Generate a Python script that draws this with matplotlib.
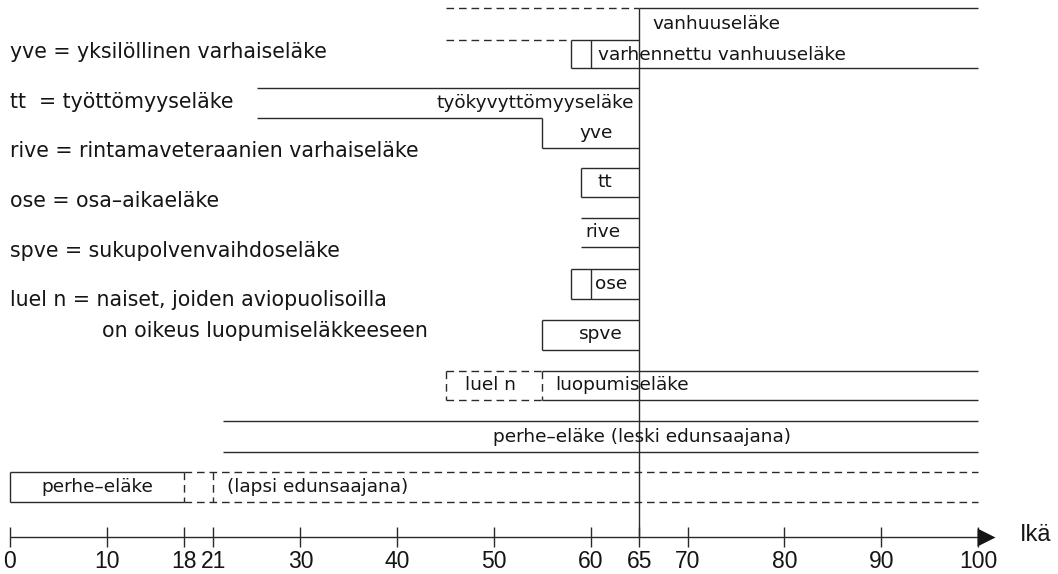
import matplotlib
matplotlib.use("Agg")
import matplotlib.pyplot as plt

# ages on the time line
age_ticks = [0, 10, 18, 21, 30, 40, 50, 60, 65, 70, 80, 90, 100]
retire_age = 65
max_age = 100

legend_lines = [
    "yve = yksilöllinen varhaiseläke",
    "tt  = työttömyyseläke",
    "rive = rintamaveteraanien varhaiseläke",
    "ose = osa\u2013aikaeläke",
    "spve = sukupolvenvaihdoseläke",
    "luel n = naiset, joiden aviopuolisoilla",
]
legend_cont = "on oikeus luopumiseläkkeeseen"

# ages for each pension row
vanhuus_ages = [45, 65, 100]        # dashed from, starts, ends
varhennettu_ages = [58, 60, 100]    # box start, divider, ends
tyokyvyt_ages = [25.5, 55, 65]      # start, yve from, ends
tt_ages = [59, 65]
rive_ages = [59, 65]
ose_ages = [58, 60, 65]
spve_ages = [55, 65]
luel_ages = [45, 55, 100]           # luel n from, luopumiseläke from, ends
leski_ages = [22, 100]
lapsi_ages = [0, 18, 21, 100]       # start, ends, dashed divider, dashed to

# ---- layout (pixels) ----
W, H = 1058, 574
PX0, PXY = 10, 9.68      # pixel of age 0, pixels per year
FONT = 13.3
LEG_FONT = 14.8
INK = "#2a2a2a"
TXT = "#151515"
DASH = (5.5, 3.5)
NUM_FONT = "Liberation Sans"

fig = plt.figure(figsize=(W / 100, H / 100), dpi=100)
ax = fig.add_axes([0, 0, 1, 1])
ax.set_xlim(-PX0 / PXY, (W - PX0) / PXY)
ax.set_ylim(H, 0)
ax.axis("off")


def hl(a, b, y, dashed=False):
    ln, = ax.plot([a, b], [y, y], color=INK, lw=1.0, solid_capstyle="butt")
    if dashed:
        ln.set_dashes(DASH)


def vl(x, y0, y1, dashed=False):
    ln, = ax.plot([x, x], [y0, y1], color=INK, lw=1.0, solid_capstyle="butt")
    if dashed:
        ln.set_dashes(DASH)


def txt(x, y, s, ha="left", size=FONT, **kw):
    ax.text(x, y, s, ha=ha, va="center", fontsize=size, color=TXT, **kw)


AXIS_Y = 537

# legend on the left
for i, s in enumerate(legend_lines):
    txt(0, 52 + i * 49.7, s, size=LEG_FONT)
txt(9.5, 331, legend_cont, size=LEG_FONT)

# retirement age line through the whole chart
vl(retire_age, 8, AXIS_Y)

# vanhuuseläke
d, s, e = vanhuus_ages
hl(d, s, 8, dashed=True)
hl(s, e, 8)
hl(d, varhennettu_ages[0], 40, dashed=True)
hl(varhennettu_ages[0], s, 40)
txt(s + 1.35, 24, "vanhuuseläke")

# varhennettu vanhuuseläke
s, m, e = varhennettu_ages
vl(s, 40, 68)
vl(m, 40, 68)
hl(s, e, 68)
txt(m + 0.7, 55, "varhennettu vanhuuseläke")

# työkyvyttömyyseläke + yve
s, y, e = tyokyvyt_ages
hl(s, e, 88)
hl(s, y, 118)
vl(y, 118, 148)
hl(y, e, 148)
txt(e - 0.5, 103, "työkyvyttömyyseläke", ha="right")
txt(y + 5.5, 133, "yve", ha="center")

# tt
s, e = tt_ages
hl(s, e, 168)
hl(s, e, 197)
vl(s, 168, 197)
txt(s + 2.5, 182, "tt", ha="center")

# rive (open on the left)
s, e = rive_ages
hl(s, e, 218)
hl(s, e, 247)
txt(s + 2.3, 232, "rive", ha="center")

# ose
s, m, e = ose_ages
hl(s, e, 269)
hl(s, e, 299)
vl(s, 269, 299)
vl(m, 269, 299)
txt(m + 2.1, 284, "ose", ha="center")

# spve
s, e = spve_ages
hl(s, e, 320)
hl(s, e, 350)
vl(s, 320, 350)
txt(s + 6, 334, "spve", ha="center")

# luel n / luopumiseläke
s, m, e = luel_ages
hl(s, m, 371, dashed=True)
hl(s, m, 400, dashed=True)
vl(s, 371, 400, dashed=True)
vl(m, 371, 400, dashed=True)
hl(m, e, 371)
hl(m, e, 400)
txt((s + m) / 2 - 0.4, 385, "luel n", ha="center")
txt(m + 1.3, 385, "luopumiseläke")

# perhe-eläke (leski)
s, e = leski_ages
hl(s, e, 421)
hl(s, e, 452)
txt(65.3, 437, "perhe\u2013eläke (leski edunsaajana)", ha="center")

# perhe-eläke (lapsi)
s, e, m, d = lapsi_ages
hl(s, e, 472)
hl(s, e, 502)
vl(s, 472, 502)
vl(e, 472, 502, dashed=True)
vl(m, 472, 502, dashed=True)
hl(e, d, 472, dashed=True)
hl(e, d, 502, dashed=True)
txt(e / 2, 487, "perhe\u2013eläke", ha="center")
txt(m + 1.4, 487, "(lapsi edunsaajana)")

# time axis
hl(age_ticks[0], max_age, AXIS_Y)
for a in age_ticks:
    vl(a, AXIS_Y - 10, AXIS_Y + 10)
    ax.text(a, 561, str(a), ha="center", va="center", fontsize=16.5,
            family=NUM_FONT, color=TXT)
ax.plot(max_age + 0.8, AXIS_Y, marker=">", ms=13, color=TXT, mec="none")
ax.text(max_age + 4.3, AXIS_Y - 2, "Ikä", ha="left", va="center", fontsize=17,
        family=NUM_FONT, color=TXT)

fig.savefig("out.png", dpi=100)
